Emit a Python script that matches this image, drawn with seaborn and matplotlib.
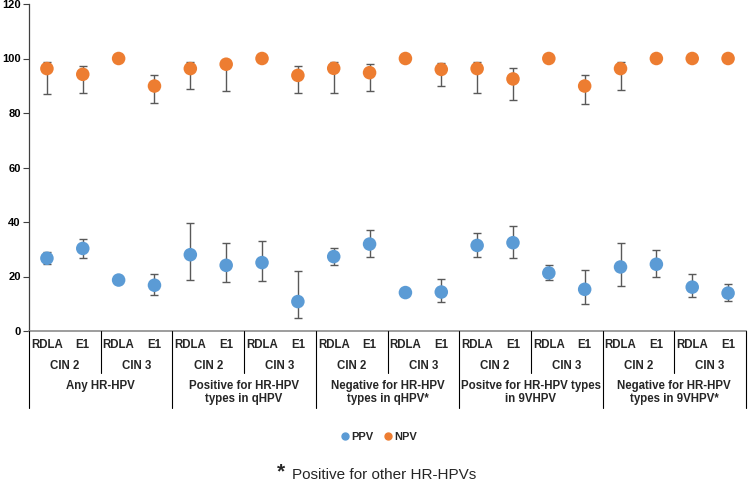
import numpy as np
import pandas as pd
import matplotlib.pyplot as plt
import seaborn as sns
from matplotlib.lines import Line2D

# chart data
tests = ["RDLA", "E1"] * 10
cins = ["CIN 2", "CIN 3"] * 5
groups = ["Any HR-HPV", "Positive for HR-HPV\ntypes in qHPV",
          "Negative for HR-HPV\ntypes in qHPV*", "Positve for HR-HPV types\nin 9VHPV",
          "Negative for HR-HPV\ntypes in 9VHPV*"]

ppv = [26.7, 30.3, 18.7, 16.8, 28.0, 24.1, 25.1, 10.8, 27.3, 31.9,
       14.1, 14.3, 31.4, 32.4, 21.3, 15.3, 23.5, 24.5, 16.1, 13.9]
ppv_lo = [24.6, 26.9, None, 13.3, 18.7, 17.9, 18.3, 4.9, 24.1, 27.0,
          None, 10.5, 27.2, 26.9, 18.7, 10.0, 16.5, 19.7, 12.4, 11.0]
ppv_hi = [29.0, 33.8, None, 20.9, 39.7, 32.2, 33.1, 22.1, 30.6, 36.9,
          None, 19.2, 35.8, 38.5, 24.3, 22.5, 32.4, 29.7, 20.9, 17.4]

npv = [96.3, 94.2, 100, 89.9, 96.3, 97.9, 100, 93.8, 96.4, 94.8,
       100, 96.0, 96.3, 92.5, 100, 89.9, 96.3, 100, 100, 100]
npv_lo = [87.1, 87.3, None, 83.6, 88.7, 88.0, None, 87.3, 87.3, 88.0,
          None, 89.8, 87.5, 84.8, None, 83.3, 88.4, None, None, None]
npv_hi = [98.8, 97.2, None, 93.9, 98.7, 98.9, None, 97.1, 98.8, 97.9,
          None, 98.5, 98.8, 96.4, None, 93.9, 98.7, None, None, None]

blue = "#5B9BD5"
orange = "#ED7D31"

sns.set_style("white")
plt.rcParams["font.family"] = ["Liberation Sans", "DejaVu Sans"]

fig = plt.figure(figsize=(7.49, 4.82), dpi=100)
ax = fig.add_axes([29 / 749, 151 / 482, 717 / 749, 327 / 482])

xs = np.arange(len(ppv))
df = pd.DataFrame({
    "x": np.concatenate([xs, xs]),
    "value": ppv + npv,
    "measure": ["PPV"] * len(ppv) + ["NPV"] * len(npv),
})


def draw_err(vals, lo, hi):
    idx = [i for i in range(len(vals)) if lo[i] is not None]
    v = np.array([vals[i] for i in idx])
    l = np.array([lo[i] for i in idx])
    h = np.array([hi[i] for i in idx])
    ax.errorbar(idx, v, yerr=[v - l, h - v], fmt="none", ecolor="#595959",
                elinewidth=1, capsize=3, capthick=1, zorder=1)


draw_err(ppv, ppv_lo, ppv_hi)
draw_err(npv, npv_lo, npv_hi)

sns.scatterplot(data=df, x="x", y="value", hue="measure",
                palette={"PPV": blue, "NPV": orange}, s=95, edgecolor="none",
                legend=False, ax=ax, zorder=3)

ax.set_xlim(-0.5, 19.5)
ax.set_ylim(0, 120)
ax.set_yticks(range(0, 121, 20))
ax.set_yticklabels([str(v) for v in range(0, 121, 20)], fontweight="bold", fontsize=8)
ax.set_xticks([])
ax.set_xlabel("")
ax.set_ylabel("")
ax.tick_params(axis="y", direction="out", length=4, width=0.8, colors="#404040",
               labelcolor="black", pad=2, left=True)
for s in ["top", "right"]:
    ax.spines[s].set_visible(False)
ax.spines["left"].set_color("#404040")
ax.spines["bottom"].set_color("#8c8c8c")
ax.spines["left"].set_linewidth(0.9)
ax.spines["bottom"].set_linewidth(1.2)


# multi-level category labels, x taken from the axes' data scale
def fx(xd):
    px = ax.transData.transform((xd, 0))[0]
    return fig.transFigure.inverted().transform((px, 0))[0]


def fy(py):
    return (482 - py) / 482


for i, t in enumerate(tests):
    fig.text(fx(i), fy(345), t, ha="center", va="center",
             fontsize=8.3, fontweight="bold")
for j, c in enumerate(cins * 2):
    fig.text(fx(2 * j + 0.5), fy(366), c, ha="center", va="center",
             fontsize=8.3, fontweight="bold")
for k, g in enumerate(groups):
    fig.text(fx(4 * k + 1.5), fy(380), g, ha="center", va="top",
             fontsize=8.3, fontweight="bold", linespacing=1.1)

for b in np.arange(-0.5, 20, 2):
    bottom = 408 if (b + 0.5) % 4 == 0 else 373
    fig.add_artist(Line2D([fx(b), fx(b)], [fy(331), fy(bottom)],
                          transform=fig.transFigure, color="black", lw=0.8))

# legend
handles = [Line2D([], [], marker="o", ls="", color=blue, markersize=5, label="PPV"),
           Line2D([], [], marker="o", ls="", color=orange, markersize=5, label="NPV")]
leg = fig.legend(handles=handles, loc="center", bbox_to_anchor=(0.505, fy(437)),
                 ncol=2, frameon=False, handletextpad=0.1, columnspacing=0.8,
                 prop={"weight": "bold", "size": 8}, handlelength=1)

# footnote
fig.text(277 / 749, fy(472), "*", fontsize=15, fontweight="bold", ha="left", va="center")
fig.text(292 / 749, fy(475), "Positive for other HR-HPVs", fontsize=11, ha="left", va="center")

fig.savefig("out.png", dpi=100)
